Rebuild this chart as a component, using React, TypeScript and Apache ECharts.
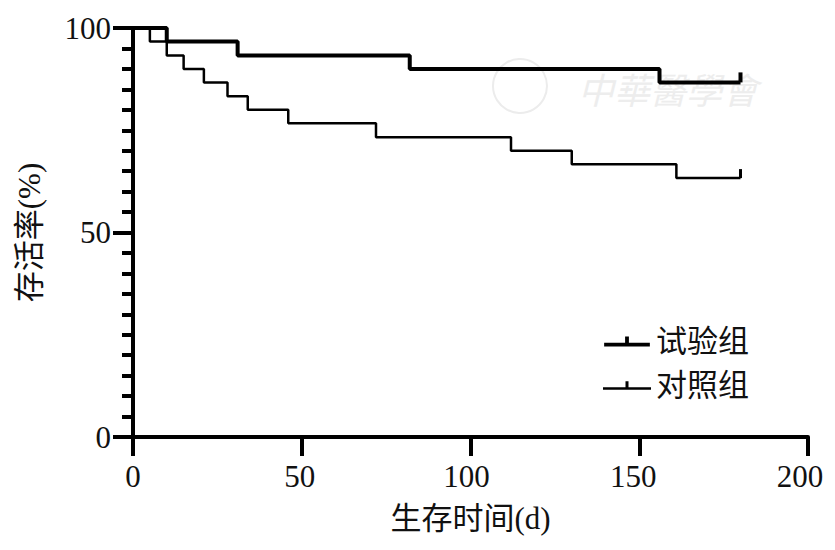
import React, { useEffect, useRef } from "react";
import * as echarts from "echarts";

const trialName = "试验组";
const controlName = "对照组";
const trialTimes = [0, 10, 31, 82, 156, 180];
const trialSurv = [100, 96.7, 93.3, 90, 86.7, 86.7];
const controlTimes = [0, 5, 10, 15, 21, 28, 34, 46, 72, 112, 130, 161, 180];
const controlSurv = [100, 96.7, 93.3, 90, 86.7, 83.3, 80, 76.7, 73.3, 70, 66.7, 63.3, 63.3];
const xTicks = [0, 50, 100, 150, 200];
const yTicks = [0, 50, 100];
const xName = "生存时间(d)";
const yName = "存活率(%)";

const FONT = "'Liberation Serif', 'Noto Sans CJK SC', serif";

function buildData(times: number[], surv: number[], tickW: number, tickH: number) {
  return times.map((t, i) => {
    if (i === times.length - 1) {
      return {
        value: [t, surv[i]],
        symbol: "rect",
        symbolSize: [tickW, tickH],
        symbolOffset: [0, -tickH / 2],
      };
    }
    return { value: [t, surv[i]], symbol: "none" };
  });
}

export default function App() {
  const ref = useRef<HTMLDivElement>(null);
  useEffect(() => {
    if (!ref.current) return;
    const chart = echarts.init(ref.current, null, { renderer: "svg" });
    const xMax = xTicks[xTicks.length - 1];
    const option: any = {
      animation: false,
      backgroundColor: "#ffffff",
      textStyle: { fontFamily: FONT, color: "#111" },
      grid: { left: 133, right: 27, top: 28, bottom: 113, containLabel: false },
      xAxis: [
        {
          type: "value",
          min: xTicks[0],
          max: xMax,
          interval: 50,
          position: "bottom",
          name: xName,
          nameLocation: "middle",
          nameGap: 66,
          nameTextStyle: { fontSize: 31, color: "#111", fontFamily: FONT },
          axisLine: { show: true, onZero: false, lineStyle: { color: "#000", width: 4 } },
          axisTick: { show: true, length: 19, lineStyle: { color: "#000", width: 4 } },
          axisLabel: { show: false },
          splitLine: { show: false },
        },
        {
          // label-only axis: the reference's tick labels sit on a slightly compressed scale
          type: "value",
          min: xTicks[0],
          max: xMax * 1.012,
          interval: 50,
          position: "bottom",
          offset: 0,
          axisLine: { show: false },
          axisTick: { show: false },
          axisLabel: {
            margin: 24,
            fontSize: 31,
            color: "#111",
            fontFamily: FONT,
            showMaxLabel: false,
            formatter: (v: number) => (xTicks.indexOf(v) >= 0 ? String(v) : ""),
          },
          splitLine: { show: false },
        },
      ],
      yAxis: {
        type: "value",
        min: yTicks[0],
        max: yTicks[yTicks.length - 1],
        interval: 50,
        name: yName,
        nameLocation: "middle",
        nameGap: 88,
        nameTextStyle: { fontSize: 31, color: "#111", fontFamily: FONT },
        axisLine: { show: true, onZero: false, lineStyle: { color: "#000", width: 4 } },
        axisTick: { show: true, length: 20, lineStyle: { color: "#000", width: 4 } },
        minorTick: { show: true, splitNumber: 10, length: 11, lineStyle: { color: "#000", width: 4 } },
        axisLabel: { margin: 22, fontSize: 31, color: "#111", fontFamily: FONT },
        splitLine: { show: false },
        minorSplitLine: { show: false },
      },
      legend: {
        orient: "vertical",
        left: 598,
        top: 321,
        itemWidth: 48,
        itemHeight: 10,
        itemGap: 13,
        selectedMode: false,
        itemStyle: { borderWidth: 0 },
        textStyle: { fontSize: 31, color: "#111", fontFamily: FONT },
        data: [
          { name: trialName, icon: "path://M0,6.5L48,6.5L48,10.5L0,10.5Z M22,0L26,0L26,6.5L22,6.5Z" },
          { name: controlName, icon: "path://M0,7.5L48,7.5L48,10L0,10Z M22.5,1.5L25.5,1.5L25.5,7.5L22.5,7.5Z" },
        ],
      },
      graphic: [
        {
          type: "circle",
          shape: { cx: 520, cy: 86, r: 27 },
          style: { fill: "none", stroke: "#ececec", lineWidth: 2 },
          silent: true,
          z: -1,
        },
        {
          type: "text",
          x: 578,
          y: 70,
          style: {
            text: "中華醫學會",
            fontSize: 36,
            fontStyle: "italic",
            fill: "#ededed",
            fontFamily: "'Noto Sans CJK TC', sans-serif",
          },
          silent: true,
          z: -1,
        },
      ],
      series: [
        {
          name: trialName,
          type: "line",
          step: "end",
          xAxisIndex: 0,
          data: buildData(trialTimes, trialSurv, 4, 10),
          symbol: "none",
          showSymbol: true,
          showAllSymbol: true,
          color: "#000",
          itemStyle: { color: "#000" },
          lineStyle: { color: "#000", width: 4 },
          emphasis: { disabled: true },
          silent: true,
          z: 3,
        },
        {
          name: controlName,
          type: "line",
          step: "end",
          xAxisIndex: 0,
          data: buildData(controlTimes, controlSurv, 3, 9),
          symbol: "none",
          showSymbol: true,
          showAllSymbol: true,
          color: "#000",
          itemStyle: { color: "#000" },
          lineStyle: { color: "#000", width: 2.5 },
          emphasis: { disabled: true },
          silent: true,
          z: 3,
        },
      ],
    };
    chart.setOption(option);
    return () => chart.dispose();
  }, []);
  return <div ref={ref} style={{ width: 835, height: 550, margin: -8 }} />;
}
